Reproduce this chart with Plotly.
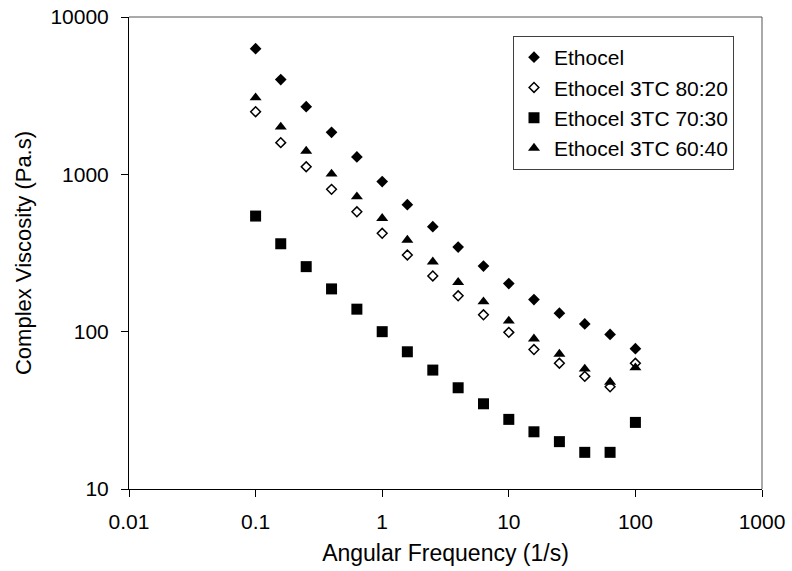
import plotly.graph_objects as go

freq = [0.1, 0.158, 0.251, 0.398, 0.631, 1.0, 1.58, 2.51, 3.98, 6.31, 10.0, 15.8, 25.1, 39.8, 63.1, 100.0]

ethocel = [6290, 4000, 2690, 1850, 1290, 900, 641, 465, 345, 261, 202, 160, 131, 112, 96, 78]
ethocel_80_20 = [2500, 1590, 1117, 803, 578, 422, 307, 226, 169, 128, 99, 77, 63, 52, 44.6, 63]
ethocel_70_30 = [543, 362, 259, 187, 139, 100, 74.5, 57, 44, 34.8, 27.7, 23.1, 20.0, 17.1, 17.1, 26.5]
ethocel_60_40 = [3070, 2000, 1406, 1005, 721, 525, 382, 278, 206, 155, 117, 90, 72, 58, 47.8, 59]

names = ["Ethocel", "Ethocel 3TC 80:20", "Ethocel 3TC 70:30", "Ethocel 3TC 60:40"]

x_ticks = [0.01, 0.1, 1, 10, 100, 1000]
x_ticklabels = ["0.01", "0.1", "1", "10", "100", "1000"]
y_ticks = [10, 100, 1000, 10000]
y_ticklabels = ["10", "100", "1000", "10000"]

FONT = "Liberation Sans, Arial, sans-serif"

fig = go.Figure()
fig.add_trace(go.Scatter(x=freq, y=ethocel, mode="markers", name=names[0],
                         marker=dict(symbol="diamond", size=9, color="black",
                                     line=dict(width=0))))
fig.add_trace(go.Scatter(x=freq, y=ethocel_80_20, mode="markers", name=names[1],
                         marker=dict(symbol="diamond-open", size=7.5, color="black",
                                     line=dict(width=1.5, color="black"))))
fig.add_trace(go.Scatter(x=freq, y=ethocel_70_30, mode="markers", name=names[2],
                         marker=dict(symbol="square", size=11, color="black",
                                     line=dict(width=0))))
fig.add_trace(go.Scatter(x=freq, y=ethocel_60_40, mode="markers", name=names[3],
                         marker=dict(symbol="triangle-up", size=10.5, color="black",
                                     line=dict(width=0))))

fig.update_layout(
    width=792, height=571,
    margin=dict(l=129, r=30, t=17, b=82, autoexpand=False),
    paper_bgcolor="white", plot_bgcolor="white",
    font=dict(family=FONT, size=21, color="black"),
    showlegend=True,
    legend=dict(
        x=(513 - 129) / (762 - 129), y=1 - (36 - 17) / (489 - 17),
        xanchor="left", yanchor="top",
        bgcolor="white", bordercolor="#404040", borderwidth=1,
        font=dict(family=FONT, size=21, color="black"),
        tracegroupgap=0, itemwidth=30,
    ),
    xaxis=dict(
        type="log", range=[-2, 3], automargin=False,
        tickmode="array", tickvals=x_ticks, ticktext=x_ticklabels,
        showgrid=False, zeroline=False,
        showline=True, linecolor="black", linewidth=1,
        ticks="outside", ticklen=7, tickcolor="black", tickwidth=1,
        ticklabelstandoff=7,
        title=dict(text="Angular Frequency (1/s)", font=dict(family=FONT, size=23), standoff=12),
    ),
    yaxis=dict(
        type="log", range=[1, 4], automargin=False,
        tickmode="array", tickvals=y_ticks, ticktext=y_ticklabels,
        showgrid=False, zeroline=False,
        showline=True, linecolor="black", linewidth=1,
        ticks="outside", ticklen=7, tickcolor="black", tickwidth=1,
        ticklabelstandoff=8,
        title=dict(text="Complex Viscosity (Pa.s)", font=dict(family=FONT, size=22), standoff=12),
    ),
    shapes=[
        dict(type="line", xref="paper", yref="paper", x0=0, y0=1, x1=1, y1=1,
             line=dict(color="#555555", width=1)),
        dict(type="line", xref="paper", yref="paper", x0=1, y0=0, x1=1, y1=1,
             line=dict(color="#555555", width=1)),
    ],
)

fig.write_html("out.html")
